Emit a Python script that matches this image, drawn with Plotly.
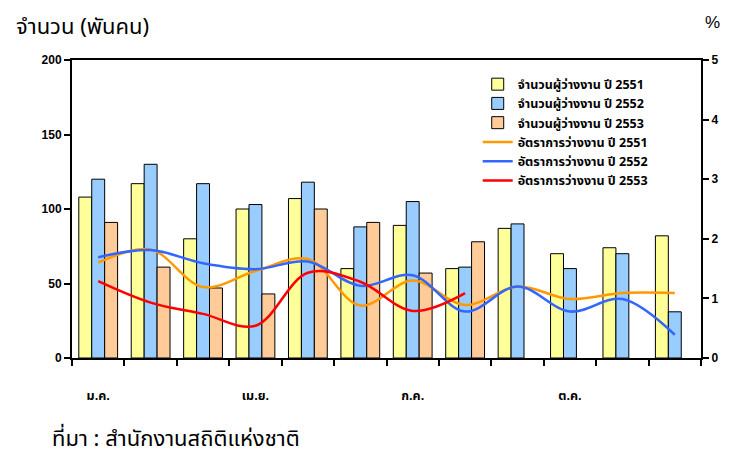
import plotly.graph_objects as go

months = list(range(12))
month_labels = ["ม.ค.", "เม.ย.", "ก.ค.", "ต.ค."]
month_label_pos = [0, 3, 6, 9]

unemp_2551 = [108, 117, 80, 100, 107, 60, 89, 60, 87, 70, 74, 82]
unemp_2552 = [120, 130, 117, 103, 118, 88, 105, 61, 90, 60, 70, 31]
unemp_2553 = [91, 61, 47, 43, 100, 91, 57, 78]

rate_2551 = [1.6, 1.82, 1.19, 1.46, 1.66, 0.88, 1.3, 0.89, 1.2, 0.99, 1.09, 1.09]
rate_2552 = [1.69, 1.81, 1.59, 1.49, 1.62, 1.21, 1.39, 0.78, 1.2, 0.78, 0.99, 0.39]
rate_2553 = [1.29, 0.93, 0.74, 0.54, 1.43, 1.28, 0.79, 1.09]

thai_font = "Noto Sans Thai, Tahoma, sans-serif"

fig = go.Figure()
bar_line = dict(color="black", width=1)
fig.add_bar(x=months, y=unemp_2551, name="จำนวนผู้ว่างงาน ปี 2551",
            marker=dict(color="#FFFF99", line=bar_line))
fig.add_bar(x=months, y=unemp_2552, name="จำนวนผู้ว่างงาน ปี 2552",
            marker=dict(color="#99CCFF", line=bar_line))
fig.add_bar(x=months[:len(unemp_2553)], y=unemp_2553, name="จำนวนผู้ว่างงาน ปี 2553",
            marker=dict(color="#FFCC99", line=bar_line))

fig.add_scatter(x=months, y=rate_2551, name="อัตราการว่างงาน ปี 2551", yaxis="y2",
                mode="lines", line=dict(color="#FF9900", width=2.5, shape="spline", smoothing=1))
fig.add_scatter(x=months, y=rate_2552, name="อัตราการว่างงาน ปี 2552", yaxis="y2",
                mode="lines", line=dict(color="#3366FF", width=2.5, shape="spline", smoothing=1))
fig.add_scatter(x=months[:len(rate_2553)], y=rate_2553, name="อัตราการว่างงาน ปี 2553", yaxis="y2",
                mode="lines", line=dict(color="#FF0000", width=2.5, shape="spline", smoothing=1))

fig.update_layout(
    width=722, height=449,
    margin=dict(l=64, r=22, t=52, b=99),
    paper_bgcolor="white", plot_bgcolor="white",
    barmode="group", bargap=0.26, bargroupgap=0,
    font=dict(family="Arial, Liberation Sans, sans-serif", color="black"),
    showlegend=True,
    legend=dict(x=0.645, y=0.968, xanchor="left", yanchor="top",
                font=dict(size=12.5, family=thai_font, weight="bold"),
                bgcolor="rgba(0,0,0,0)", tracegroupgap=0, itemwidth=30),
    xaxis=dict(range=[-0.5, 11.5], tickvals=month_label_pos, ticktext=month_labels,
               ticks="", showgrid=False, zeroline=False,
               showline=True, linecolor="black", linewidth=2, mirror=True,
               ticklabelstandoff=25,
               tickfont=dict(size=12.5, family=thai_font, weight="bold"),
               minor=dict(ticks="outside", tick0=-0.5, dtick=1, ticklen=6,
                          tickcolor="black", tickwidth=1.5, showgrid=False)),
    yaxis=dict(range=[0, 200], tickvals=[0, 50, 100, 150, 200], ticks="outside",
               ticklen=6, tickwidth=1.5, tickcolor="black",
               showgrid=False, zeroline=False, showline=True, linecolor="black", linewidth=2,
               tickfont=dict(size=12, weight="bold")),
    yaxis2=dict(range=[0, 5], tickvals=[0, 1, 2, 3, 4, 5], overlaying="y", side="right",
                ticks="outside", ticklen=6, tickwidth=1.5, tickcolor="black",
                showgrid=False, zeroline=False, showline=True, linecolor="black", linewidth=2,
                tickfont=dict(size=12, weight="bold")),
    annotations=[
        dict(text="จำนวน (พันคน)", xref="paper", yref="paper", x=-0.093, y=1.17,
             xanchor="left", yanchor="top", showarrow=False,
             font=dict(size=22, family=thai_font)),
        dict(text="%", xref="paper", yref="paper", x=1.019, y=1.127,
             xanchor="center", yanchor="middle", showarrow=False,
             font=dict(size=17)),
        dict(text="ที่มา : สำนักงานสถิติแห่งชาติ", xref="paper", yref="paper", x=-0.0346, y=-0.275,
             xanchor="left", yanchor="middle", showarrow=False,
             font=dict(size=22, family=thai_font)),
    ],
)

fig.write_html("out.html")
